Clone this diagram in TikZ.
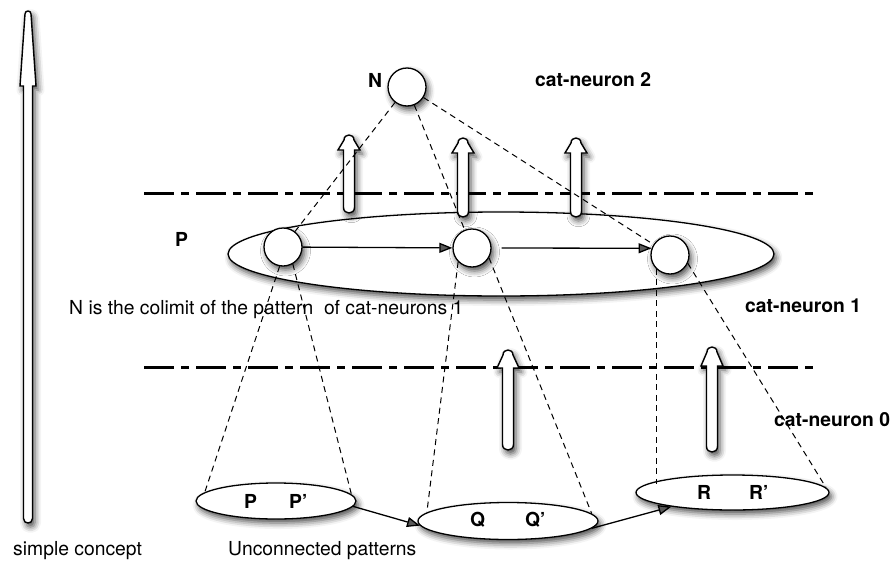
\documentclass[tikz,border=0pt]{standalone}
\usepackage{fontspec}
\setmainfont{TeX Gyre Heros}
\usetikzlibrary{arrows.meta,shapes.geometric,shadows.blur}

% upward hollow arrow: x, tip y, bottom y, head length,
% shaft half width, head half width, tip half width
\newcommand\hollowup[7]{%
  \draw[hollow] (#1-#5,#2+#4+4) -- (#1-#5,#2+#4) -- (#1-#6,#2+#4)
    -- (#1-#7,#2+#7)
    .. controls (#1-#7,#2-#7/3) and (#1+#7,#2-#7/3) .. (#1+#7,#2+#7)
    -- (#1+#6,#2+#4) -- (#1+#5,#2+#4) -- (#1+#5,#3-#5)
    .. controls (#1+#5,#3+#5/3) and (#1-#5,#3+#5/3) .. (#1-#5,#3-#5)
    -- cycle;}
\newcommand\prm{{\char"0027}}

\begin{document}
\begin{tikzpicture}[x=1pt,y=-1pt,
  softshadow/.style={blur shadow={shadow xshift=2.5pt, shadow yshift=-4pt,
      shadow blur radius=6pt, shadow opacity=70}},
  cell/.style={circle, draw, line width=1.3pt, fill=white, minimum size=38pt,
      inner sep=0pt, softshadow},
  patt/.style={ellipse, draw, line width=1.3pt, fill=white, inner sep=0pt, softshadow},
  layerline/.style={line width=3pt, dash pattern=on 30pt off 7pt on 8pt off 7pt},
  dlink/.style={line width=1pt, dash pattern=on 6pt off 4.5pt},
  flow/.style={line width=1.3pt, -{Triangle[length=13pt,width=10pt]}},
  hollow/.style={draw, line width=1.4pt, fill=white, softshadow},
  txt/.style={font=\fontsize{19.3}{23}\selectfont, inner sep=0pt, anchor=base west},
  btxt/.style={txt, font=\fontsize{19.3}{23}\selectfont\bfseries}]

\useasboundingbox (0,0) rectangle (894,565);

% level separators
\coordinate (topL) at (144,193);  \coordinate (topR) at (819,193);
\coordinate (botL) at (144,367);  \coordinate (botR) at (819,367);
\draw[layerline] (topL) -- (topR);
\draw[layerline] (botL) -- (botR);

% pattern of cat-neurons 1
\node[patt, minimum width=546pt, minimum height=84pt] (Pat) at (501,254) {};

% upward hollow arrows between levels
\hollowup{349}{135}{213}{15}{5.5}{11}{5}
\hollowup{463}{138}{217}{15}{5.5}{11}{5}
\hollowup{576}{138}{217}{15}{5.5}{11}{5}
\hollowup{508}{350}{450}{18}{5.5}{11}{5}
\hollowup{712}{347}{452}{19}{5.5}{11}{5}
\hollowup{28}{11}{523}{75}{4.5}{8}{3}

% cat-neurons
\node[cell] (N)  at (407,87)  {};
\node[cell] (C1) at (283,247) {};
\node[cell] (C2) at (472,248) {};
\node[cell] (C3) at (670,255) {};

% unconnected patterns
\node[patt, minimum width=160pt, minimum height=36pt] (E1) at (276,501) {};
\node[patt, minimum width=180pt, minimum height=37pt] (E2) at (508,521) {};
\node[patt, minimum width=193pt, minimum height=35pt] (E3) at (732.5,492.5) {};

% links inside the pattern and between the lower patterns
\draw[flow] (C1) -- (C2);
\draw[flow] ([xshift=10pt]C2.east) -- (C3.160);
\draw[flow] (E1.356) -- (E2.183);
\draw[flow] (E2.355) -- (E3.193);

% colimit cones
\draw[dlink] (N) -- (C1);
\draw[dlink] (N) -- (C2);
\draw[dlink] (N) -- (C3);
\draw[dlink] (C1.260) -- (E1.173);
\draw[dlink] (C1.300) -- (E1.5);
\draw[dlink] (C2.225) -- (E2.174);
\draw[dlink] (C2.330) -- (E2.5);
\draw[dlink] (C3.south west) -- (C3.south west |- E3.174);
\draw[dlink] (C3.335) -- (E3.3);

% labels
\node[btxt] (lN)  at (368,87.3)  {N};
\node[btxt] (lP)  at (175,246.7) {P};
\node[btxt] (c2)  at (535,86.7)  {cat-neuron 2};
\node[btxt] (c1)  at (745,312)   {cat-neuron 1};
\node[btxt] (c0)  at (774,426.7) {cat-neuron 0};
\node[txt]  (col) at (69,314)    {N is the colimit of the pattern~ of cat-neurons 1};
\node[txt]  (sc)  at (13,555)    {simple concept};
\node[txt]  (up)  at (228,555)   {Unconnected patterns};
\node[btxt] (p1)  at (244,508)   {P};
\node[btxt] (p2)  at (289,508)   {P\prm};
\node[btxt] (q1)  at (470,526)   {Q};
\node[btxt] (q2)  at (525,526)   {Q\prm};
\node[btxt] (r1)  at (697,499)   {R};
\node[btxt] (r2)  at (749,499)   {R\prm};
\end{tikzpicture}
\end{document}
